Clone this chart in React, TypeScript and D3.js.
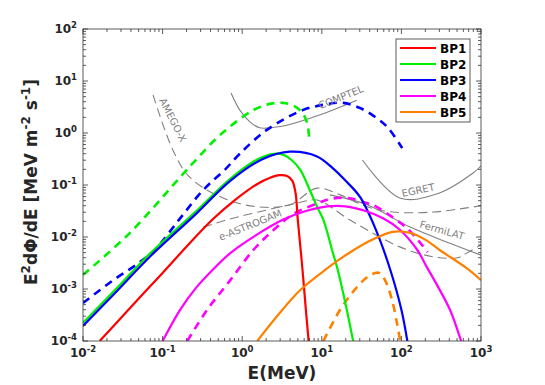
import React, { useRef, useEffect } from 'react';
import * as d3 from 'd3';

// every point is [log10 E(MeV), log10 E^2 dPhi/dE]
const bp1Solid = [[-1.79, -4.0], [-1.4, -3.35], [-1.0, -2.69], [-0.66, -2.12], [-0.37, -1.66], [-0.1, -1.3], [0.19, -0.98], [0.35, -0.86], [0.47, -0.81], [0.57, -0.83], [0.63, -0.92], [0.67, -1.15], [0.7, -1.7], [0.75, -2.5], [0.8, -3.4], [0.84, -4.1]];
const bp2Solid = [[-2, -3.65], [-1.6, -3.02], [-1.16, -2.32], [-0.57, -1.49], [-0.15, -0.88], [0.2, -0.5], [0.4, -0.4], [0.52, -0.42], [0.62, -0.52], [0.73, -0.71], [0.85, -1.1], [0.95, -1.45], [1.02, -1.67], [1.14, -2.31], [1.2, -2.63], [1.3, -3.3], [1.4, -4.05]];
const bp3Solid = [[-2, -3.71], [-1.6, -3.08], [-1.16, -2.38], [-0.57, -1.54], [-0.15, -0.92], [0.26, -0.5], [0.6, -0.36], [0.94, -0.45], [1.14, -0.68], [1.3, -0.92], [1.48, -1.23], [1.69, -1.9], [1.86, -2.63], [2.0, -3.4], [2.08, -4.05]];
const bp4Solid = [[-1.0, -4.0], [-0.78, -3.4], [-0.57, -2.96], [-0.37, -2.63], [-0.15, -2.31], [0.19, -1.95], [0.51, -1.67], [0.8, -1.5], [1.07, -1.41], [1.3, -1.41], [1.55, -1.5], [1.77, -1.64], [1.98, -1.86], [2.2, -2.25], [2.32, -2.58], [2.45, -2.93], [2.61, -3.4], [2.74, -3.95], [2.78, -4.15]];
const bp5Solid = [[0.19, -4.0], [0.45, -3.5], [0.73, -3.02], [1.07, -2.6], [1.3, -2.35], [1.57, -2.1], [1.89, -1.9], [2.11, -1.92], [2.3, -2.05], [2.48, -2.25], [2.82, -2.6], [3.0, -2.83]];

const bp2Dashed = [[-2, -2.73], [-1.41, -1.92], [-0.78, -0.85], [-0.57, -0.5], [-0.28, -0.04], [0.14, 0.44], [0.35, 0.56], [0.51, 0.58], [0.65, 0.52], [0.76, 0.38], [0.81, 0.22], [0.83, 0.08], [0.845, -0.17]];
const bp3Dashed = [[-2, -3.27], [-1.62, -2.83], [-1.3, -2.5], [-1.1, -2.25], [-0.8, -1.68], [-0.55, -1.2], [-0.4, -0.96], [-0.22, -0.71], [-0.03, -0.4], [0.31, 0.06], [0.76, 0.44], [1.05, 0.55], [1.27, 0.58], [1.48, 0.48], [1.65, 0.33], [1.82, 0.12], [2.01, -0.29]];
const bp4Dashed = [[-0.69, -4.0], [-0.44, -3.4], [-0.15, -2.83], [0.14, -2.25], [0.39, -1.87], [0.65, -1.55], [0.95, -1.35], [1.1, -1.27], [1.32, -1.25], [1.57, -1.35], [1.69, -1.42], [1.89, -1.62], [2.07, -1.83], [2.23, -2.1], [2.33, -2.29]];
const bp5Dashed = [[1.02, -4.0], [1.23, -3.4], [1.45, -2.95], [1.6, -2.74], [1.72, -2.69], [1.8, -2.85], [1.88, -3.2], [1.95, -3.7], [1.99, -4.05]];

// instrument sensitivities
const comptel = [[-0.14, 0.77], [-0.03, 0.44], [0.1, 0.21], [0.22, 0.1], [0.4, 0.11], [0.56, 0.15], [0.98, 0.35], [1.44, 0.63]];
const egret = [[1.51, -0.52], [1.98, -1.25], [2.45, -1.17], [2.9, -0.77], [3.0, -0.63]];
const fermiLat = [[1.1, -1.19], [1.57, -1.38], [2.11, -1.81], [2.61, -2.12], [3.0, -2.35]];
const amegoX = [[-1.12, 0.73], [-0.87, -0.33], [-0.66, -0.85], [-0.24, -1.25], [0.19, -1.42], [0.6, -1.38], [0.94, -1.06], [1.23, -1.19], [1.57, -1.42], [1.89, -1.52], [2.4, -1.52], [2.82, -1.44], [3.0, -1.4]];
const eAstrogam = [[-0.49, -1.81], [-0.19, -1.67], [0.31, -1.48], [0.69, -1.35], [0.94, -1.29], [1.35, -1.67], [1.98, -2.19], [2.4, -2.38], [2.7, -2.4], [2.82, -2.31], [3.0, -2.15]];

const legendNames = ['BP1', 'BP2', 'BP3', 'BP4', 'BP5'];
const xTicks = [-2, -1, 0, 1, 2, 3];
const yTicks = [-4, -3, -2, -1, 0, 1, 2];

const colors = ['#ff0000', '#00f000', '#0000ff', '#ff00ff', '#ff8000'];

function Chart() {
    const ref = useRef(null);
    useEffect(() => {
        const svg = d3.select(ref.current);
        svg.selectAll('*').remove();
        const left = 83, right = 481, top = 29, bottom = 341;
        const x = d3.scaleLog().domain([1e-2, 1e3]).range([left, right]);
        const y = d3.scaleLog().domain([1e-4, 1e2]).range([bottom, top]);
        const font = 'DejaVu Sans, sans-serif';
        const axisColor = '#333';

        svg.append('clipPath').attr('id', 'plot-clip')
            .append('rect').attr('x', left).attr('y', top)
            .attr('width', right - left).attr('height', bottom - top);

        const line = d3.line()
            .x(d => x(Math.pow(10, d[0])))
            .y(d => y(Math.pow(10, d[1])))
            .curve(d3.curveCatmullRom.alpha(0.5));

        const plot = svg.append('g').attr('clip-path', 'url(#plot-clip)');

        // grey instrument curves
        const grey = '#808080';
        [comptel, egret, fermiLat].forEach(c => {
            plot.append('path').attr('d', line(c)).attr('fill', 'none')
                .attr('stroke', grey).attr('stroke-width', 1.1);
        });
        [amegoX, eAstrogam].forEach(c => {
            plot.append('path').attr('d', line(c)).attr('fill', 'none')
                .attr('stroke', grey).attr('stroke-width', 1.1)
                .attr('stroke-dasharray', '9,5');
        });

        const labels = [
            { t: 'AMEGO-X', e: -0.87, v: 0.25, a: 63 },
            { t: 'COMPTEL', e: 1.24, v: 0.69, a: -22 },
            { t: 'EGRET', e: 2.21, v: -1.1, a: -12 },
            { t: 'FermiLAT', e: 2.51, v: -1.87, a: 16 },
            { t: 'e-ASTROGAM', e: 0.1, v: -1.77, a: -22 },
        ];
        labels.forEach(l => {
            const px = x(Math.pow(10, l.e)), py = y(Math.pow(10, l.v));
            svg.append('text')
                .attr('transform', 'translate(' + px + ',' + py + ') rotate(' + l.a + ')')
                .attr('text-anchor', 'middle')
                .attr('dy', '0.35em')
                .attr('font-family', font)
                .attr('font-size', 10)
                .attr('fill', grey)
                .text(l.t);
        });

        const solids = [bp1Solid, bp2Solid, bp3Solid, bp4Solid, bp5Solid];
        const dashed = [null, bp2Dashed, bp3Dashed, bp4Dashed, bp5Dashed];
        dashed.forEach((c, i) => {
            if (!c) return;
            plot.append('path').attr('d', line(c)).attr('fill', 'none')
                .attr('stroke', colors[i]).attr('stroke-width', 2.6)
                .attr('stroke-dasharray', '8,6');
        });
        solids.forEach((c, i) => {
            plot.append('path').attr('d', line(c)).attr('fill', 'none')
                .attr('stroke', colors[i]).attr('stroke-width', 2.2);
        });

        // box and ticks (inside, all four sides)
        svg.append('rect').attr('x', left).attr('y', top)
            .attr('width', right - left).attr('height', bottom - top)
            .attr('fill', 'none').attr('stroke', axisColor).attr('stroke-width', 0.8);

        const tg = svg.append('g').attr('stroke', axisColor).attr('stroke-width', 0.8);
        for (let k = -2; k <= 3; k++) {
            for (let m = 1; m <= 9; m++) {
                const v = m * Math.pow(10, k);
                if (v > 1e3) break;
                const px = x(v), len = m === 1 ? 5 : 3;
                tg.append('line').attr('x1', px).attr('x2', px).attr('y1', bottom).attr('y2', bottom - len);
                tg.append('line').attr('x1', px).attr('x2', px).attr('y1', top).attr('y2', top + len);
            }
        }
        for (let k = -4; k <= 2; k++) {
            for (let m = 1; m <= 9; m++) {
                const v = m * Math.pow(10, k);
                if (v > 1e2) break;
                const py = y(v), len = m === 1 ? 5 : 3;
                tg.append('line').attr('y1', py).attr('y2', py).attr('x1', left).attr('x2', left + len);
                tg.append('line').attr('y1', py).attr('y2', py).attr('x1', right).attr('x2', right - len);
            }
        }

        xTicks.forEach(t => {
            const tx = svg.append('text').attr('x', x(Math.pow(10, t))).attr('y', 357)
                .attr('text-anchor', 'middle').attr('font-family', font)
                .attr('font-weight', 'bold').attr('font-size', 12).attr('fill', '#262626');
            tx.append('tspan').text('10');
            tx.append('tspan').attr('dy', -5).attr('font-size', 8.5).text(t);
        });
        yTicks.forEach(t => {
            const ty = svg.append('text').attr('x', 77).attr('y', y(Math.pow(10, t)) + 4)
                .attr('text-anchor', 'end').attr('font-family', font)
                .attr('font-weight', 'bold').attr('font-size', 12).attr('fill', '#262626');
            ty.append('tspan').text('10');
            ty.append('tspan').attr('dy', -5).attr('font-size', 8.5).text(t);
        });

        svg.append('text').attr('x', 282).attr('y', 379)
            .attr('text-anchor', 'middle').attr('font-family', font)
            .attr('font-weight', 'bold').attr('font-size', 17).attr('fill', '#262626')
            .text('E(MeV)');

        const yt = svg.append('text')
            .attr('transform', 'translate(37,182) rotate(-90)')
            .attr('text-anchor', 'middle').attr('font-family', font)
            .attr('font-weight', 'bold').attr('font-size', 17).attr('fill', '#262626');
        yt.append('tspan').text('E');
        yt.append('tspan').attr('dy', -7).attr('font-size', 12).text('2');
        yt.append('tspan').attr('dy', 7).text('d\u03A6/dE [MeV m');
        yt.append('tspan').attr('dy', -7).attr('font-size', 12).text('-2');
        yt.append('tspan').attr('dy', 7).text(' s');
        yt.append('tspan').attr('dy', -7).attr('font-size', 12).text('-1');
        yt.append('tspan').attr('dy', 7).text(']');

        // legend
        const lg = svg.append('g');
        lg.append('rect').attr('x', 396).attr('y', 39).attr('width', 74).attr('height', 83)
            .attr('fill', 'white').attr('stroke', axisColor).attr('stroke-width', 0.8);
        legendNames.forEach((n, i) => {
            const ly = 48 + i * 16;
            lg.append('line').attr('x1', 400).attr('x2', 436).attr('y1', ly).attr('y2', ly)
                .attr('stroke', colors[i]).attr('stroke-width', 2.2);
            lg.append('text').attr('x', 440).attr('y', ly + 4.5)
                .attr('font-family', font).attr('font-weight', 'bold').attr('font-size', 12)
                .attr('fill', '#000').text(n);
        });
    }, []);
    return (
        <svg ref={ref} width="545" height="385" style={{ position: 'absolute', left: 0, top: 0, background: 'white' }}></svg>
    );
}

export default function App() {
    return <Chart />;
}
